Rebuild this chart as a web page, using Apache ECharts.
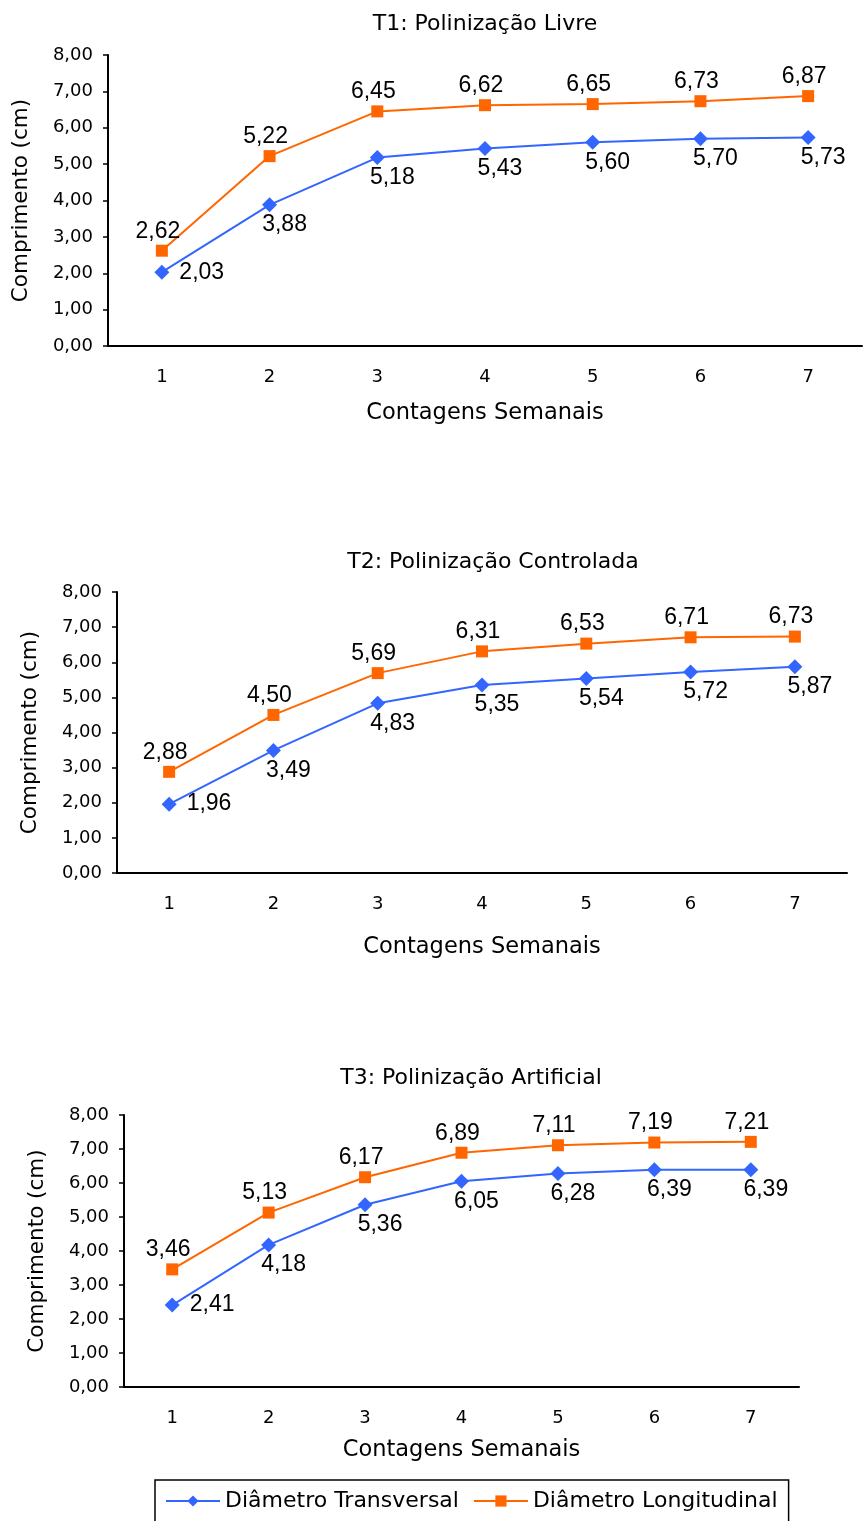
<!DOCTYPE html>
<html>
<head>
<meta charset="utf-8">
<script src="https://cdn.jsdelivr.net/npm/echarts@6/dist/echarts.min.js"></script>
<style>
  html, body { margin: 0; padding: 0; background: #fff; }
  #main { width: 863px; height: 1521px; }
</style>
</head>
<body>
<div id="main"></div>
<script>
var chart = echarts.init(document.getElementById('main'));

var semanas = ['1', '2', '3', '4', '5', '6', '7'];
var titulos = ['T1: Polinização Livre', 'T2: Polinização Controlada', 'T3: Polinização Artificial'];
var nomes = ['Diâmetro Transversal', 'Diâmetro Longitudinal'];

var t1Transversal = [2.03, 3.88, 5.18, 5.43, 5.60, 5.70, 5.73];
var t1Longitudinal = [2.62, 5.22, 6.45, 6.62, 6.65, 6.73, 6.87];
var t2Transversal = [1.96, 3.49, 4.83, 5.35, 5.54, 5.72, 5.87];
var t2Longitudinal = [2.88, 4.50, 5.69, 6.31, 6.53, 6.71, 6.73];
var t3Transversal = [2.41, 4.18, 5.36, 6.05, 6.28, 6.39, 6.39];
var t3Longitudinal = [3.46, 5.13, 6.17, 6.89, 7.11, 7.19, 7.21];

var blue = '#3366ff';
var orange = '#ff6600';
var font = 'DejaVu Sans, sans-serif';
var labelFont = 'Liberation Sans, Arial, sans-serif';

var grids = [
  { left: 108, top: 55, width: 754, height: 291 },
  { left: 117, top: 592, width: 730, height: 281 },
  { left: 124, top: 1115, width: 675, height: 272 }
];
var titleTop = [8, 546, 1062];
var titleX = [480, 488, 466];
var xNameGap = [56, 63, 52];
var dados = [
  [t1Transversal, t1Longitudinal],
  [t2Transversal, t2Longitudinal],
  [t3Transversal, t3Longitudinal]
];

function fmt(v) {
  return v.toFixed(2).replace('.', ',');
}

var titles = [], xAxes = [], yAxes = [], series = [];

grids.forEach(function (g, i) {
  titles.push({
    text: titulos[i],
    left: titleX[i],
    top: titleTop[i],
    textAlign: 'center',
    textStyle: { fontFamily: font, fontSize: 22, fontWeight: 'normal', color: '#000' }
  });
  xAxes.push({
    type: 'category',
    gridIndex: i,
    data: semanas,
    name: 'Contagens Semanais',
    nameLocation: 'middle',
    nameGap: xNameGap[i],
    nameTextStyle: { fontFamily: font, fontSize: 22.5, color: '#000' },
    axisLine: { lineStyle: { color: '#000', width: 2 } },
    axisTick: { length: 6, lineStyle: { color: '#000', width: 1.5 } },
    axisLabel: { fontFamily: font, fontSize: 18, color: '#000', margin: 22 },
    splitLine: { show: false }
  });
  yAxes.push({
    type: 'value',
    gridIndex: i,
    min: 0,
    max: 8,
    interval: 1,
    name: 'Comprimento (cm)',
    nameLocation: 'middle',
    nameGap: 76,
    nameTextStyle: { fontFamily: font, fontSize: 21.5, color: '#000' },
    axisLine: { show: true, lineStyle: { color: '#000', width: 2 } },
    axisTick: { show: true, length: 5, lineStyle: { color: '#000', width: 1.5 } },
    axisLabel: { fontFamily: font, fontSize: 18, color: '#000', margin: 15, formatter: fmt },
    splitLine: { show: false }
  });
  series.push({
    name: nomes[0],
    type: 'line',
    xAxisIndex: i,
    yAxisIndex: i,
    data: dados[i][0].map(function (v, k) {
      return k === 0 ? { value: v, label: { position: 'right', distance: 10, offset: [0, 0] } } : v;
    }),
    symbol: 'diamond',
    symbolSize: 15,
    itemStyle: { color: blue },
    lineStyle: { color: blue, width: 2 },
    label: {
      show: true, position: 'bottom', distance: 1, offset: [15, 0],
      fontFamily: labelFont, fontSize: 23, color: '#000',
      formatter: function (p) { return fmt(p.value); }
    }
  });
  series.push({
    name: nomes[1],
    type: 'line',
    xAxisIndex: i,
    yAxisIndex: i,
    data: dados[i][1],
    symbol: 'rect',
    symbolSize: 12,
    itemStyle: { color: orange },
    lineStyle: { color: orange, width: 2 },
    label: {
      show: true, position: 'top', distance: 2, offset: [-4, 0],
      fontFamily: labelFont, fontSize: 23, color: '#000',
      formatter: function (p) { return fmt(p.value); }
    }
  });
});

var option = {
  backgroundColor: '#fff',
  animation: false,
  title: titles,
  grid: grids,
  xAxis: xAxes,
  yAxis: yAxes,
  legend: {
    data: nomes,
    left: 155,
    top: 1480,
    orient: 'horizontal',
    borderColor: '#000',
    borderWidth: 1.5,
    borderRadius: 0,
    padding: [10, 11, 20, 10],
    itemGap: 14,
    itemWidth: 54,
    itemHeight: 14,
    textStyle: { fontFamily: font, fontSize: 22, color: '#000' }
  },
  series: series
};

chart.setOption(option);
</script>
</body>
</html>
